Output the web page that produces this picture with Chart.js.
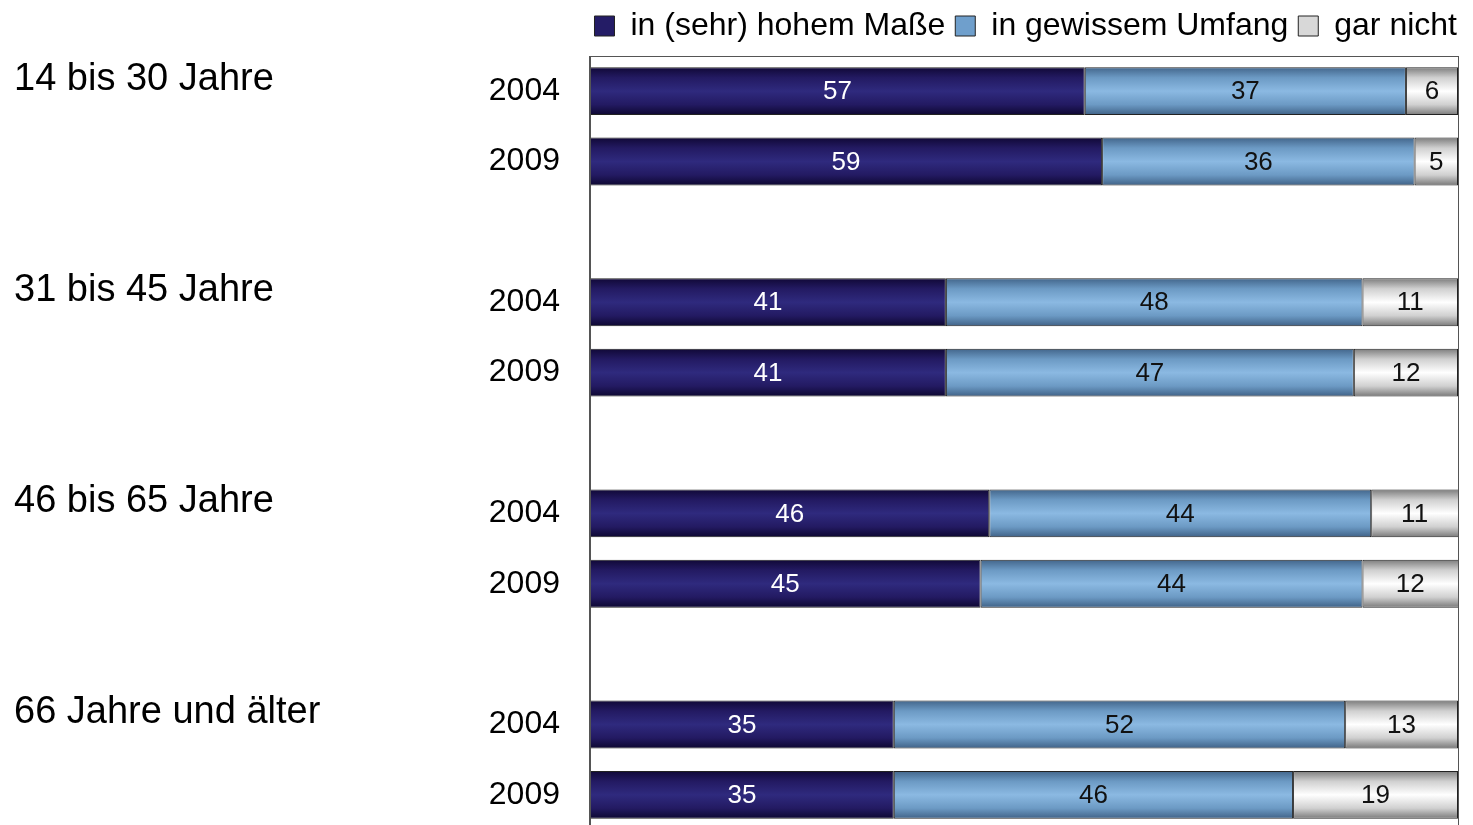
<!DOCTYPE html>
<html>
<head>
<meta charset="utf-8">
<script src="https://cdn.jsdelivr.net/npm/chart.js@4"></script>
<style>
  html, body { margin: 0; padding: 0; background: #fff; overflow: hidden; }
  #myChart { display: block; }
</style>
</head>
<body>
<canvas id="myChart" width="1473" height="830"></canvas>
<script>
// rows: 2004/2009 per age group, empty slot between groups
let years  = ['2004', '2009', '', '2004', '2009', '', '2004', '2009', '', '2004', '2009'];
let groups = ['14 bis 30 Jahre', '31 bis 45 Jahre', '46 bis 65 Jahre', '66 Jahre und älter'];
let hoch   = [57, 59, null, 41, 41, null, 46, 45, null, 35, 35];
let gewiss = [37, 36, null, 48, 47, null, 44, 44, null, 52, 46];
let garNicht = [6, 5, null, 11, 12, null, 11, 12, null, 13, 19];

const FONT = "'Liberation Sans', Arial, sans-serif";

// vertical shading of each bar
const shades = [
    ['#100836', '#231a62', '#2f2a7e', '#231a62', '#0d0730'],
    ['#42658a', '#6c9ac4', '#8bb9e2', '#6c9ac4', '#3f6186'],
    ['#7c7c7c', '#d0d0d0', '#ffffff', '#d0d0d0', '#787878'],
];
const solid = ['#241c66', '#6f9fcc', '#d8d8d8'];

function shade(idx) {
    return function (c) {
        const chart = c.chart;
        if (!chart.chartArea || c.type !== 'data' || !chart.scales.y) return solid[idx];
        const y = chart.scales.y.getPixelForValue(c.dataIndex);
        const g = chart.ctx.createLinearGradient(0, y - 24, 0, y + 24);
        const s = shades[idx];
        g.addColorStop(0, s[0]);
        g.addColorStop(0.22, s[1]);
        g.addColorStop(0.5, s[2]);
        g.addColorStop(0.78, s[3]);
        g.addColorStop(1, s[4]);
        return g;
    };
}

// frame, value labels and group names
const extras = {
    id: 'extras',
    beforeDatasetsDraw(chart) {
        const a = chart.chartArea, ctx = chart.ctx;
        ctx.save();
        ctx.strokeStyle = '#555';
        ctx.lineWidth = 1;
        ctx.strokeRect(a.left + 0.5, a.top + 0.5, a.right - a.left, a.bottom - a.top + 5);
        ctx.restore();
    },
    afterDatasetsDraw(chart) {
        const a = chart.chartArea, ctx = chart.ctx;
        ctx.save();
        ctx.strokeStyle = '#555';
        ctx.lineWidth = 2;
        ctx.beginPath();
        ctx.moveTo(a.left, a.top);
        ctx.lineTo(a.left, a.bottom + 5);
        ctx.stroke();
        ctx.font = '26px ' + FONT;
        ctx.textAlign = 'center';
        ctx.textBaseline = 'middle';
        chart.data.datasets.forEach((ds, di) => {
            chart.getDatasetMeta(di).data.forEach((el, i) => {
                const v = ds.data[i];
                if (v == null) return;
                const x0 = Math.min(el.base, a.right), x1 = Math.min(el.x, a.right);
                ctx.fillStyle = di === 0 ? '#ffffff' : '#111111';
                ctx.fillText(String(v), (x0 + x1) / 2, el.y + 1);
            });
        });
        ctx.fillStyle = '#000';
        ctx.font = '38px ' + FONT;
        ctx.textAlign = 'left';
        groups.forEach((g, gi) => {
            const y = chart.scales.y.getPixelForValue(gi * 3);
            ctx.fillText(g, 14, y - 12);
        });
        ctx.restore();
    }
};

let ctx = document.getElementById('myChart').getContext('2d');
let chart = new Chart(ctx, {
    type: 'bar',
    data: {
        labels: years,
        datasets: [{
            label: 'in (sehr) hohem Maße',
            data: hoch,
            backgroundColor: shade(0),
        }, {
            label: 'in gewissem Umfang',
            data: gewiss,
            backgroundColor: shade(1),
        }, {
            label: 'gar nicht',
            data: garNicht,
            backgroundColor: shade(2),
        }]
    },
    options: {
        indexAxis: 'y',
        responsive: false,
        animation: false,
        events: [],
        datasets: {
            bar: {
                borderColor: '#222',
                borderWidth: 1,
                borderSkipped: false,
                barPercentage: 0.68,
                categoryPercentage: 1,
            }
        },
        layout: { padding: { left: 0, right: 6, top: 0, bottom: 0 } },
        plugins: {
            tooltip: { enabled: false },
            legend: {
                position: 'top',
                align: 'end',
                labels: {
                    font: { size: 32, family: FONT },
                    color: '#000',
                    boxWidth: 20,
                    boxHeight: 20,
                    padding: 10,
                    generateLabels(chart) {
                        const items = Chart.defaults.plugins.legend.labels.generateLabels(chart);
                        items.forEach((it, i) => {
                            it.fillStyle = solid[i];
                            it.strokeStyle = '#222';
                            it.lineWidth = 1;
                        });
                        return items;
                    }
                }
            }
        },
        scales: {
            x: {
                stacked: true,
                min: 0,
                max: 100,
                display: false,
            },
            y: {
                stacked: true,
                grid: { display: false, drawTicks: false },
                border: { display: false },
                ticks: {
                    font: { size: 32, family: FONT },
                    color: '#000',
                    padding: 30,
                    autoSkip: false,
                },
                afterFit(scale) {
                    scale.width = 590;
                    scale.paddingTop = 0;
                    scale.paddingBottom = 0;
                }
            },
            // empty strips right of and above the plot
            r: {
                type: 'category',
                position: 'right',
                grid: { display: false, drawTicks: false },
                border: { display: false },
                ticks: { display: false },
                afterFit(scale) { scale.width = 9; }
            },
            t: {
                type: 'linear',
                axis: 'x',
                position: 'top',
                grid: { display: false, drawTicks: false },
                border: { display: false },
                ticks: { display: false },
                afterFit(scale) {
                    scale.height = 4;
                    scale.paddingLeft = 0;
                    scale.paddingRight = 0;
                }
            }
        }
    },
    plugins: [extras]
});
</script>
</body>
</html>
